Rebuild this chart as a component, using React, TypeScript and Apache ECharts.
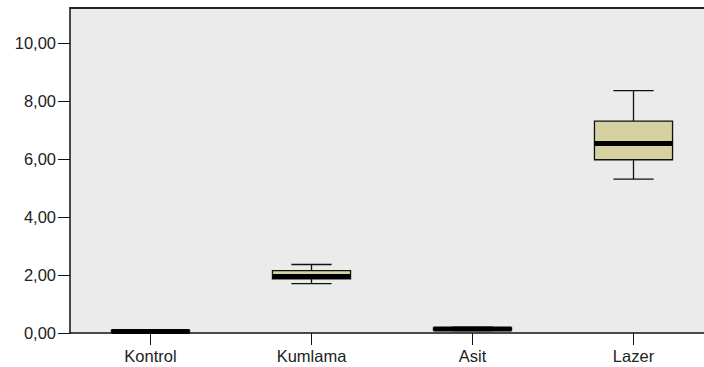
import React, { useEffect, useRef } from "react";
import * as echarts from "echarts";

const categories = ["Kontrol", "Kumlama", "Asit", "Lazer"];
const minValues = [0.0, 1.7, 0.08, 5.3];
const q1Values = [0.02, 1.87, 0.1, 5.97];
const medianValues = [0.05, 1.95, 0.14, 6.53];
const q3Values = [0.09, 2.15, 0.18, 7.3];
const maxValues = [0.1, 2.36, 0.2, 8.35];
const yTicks = [0, 2, 4, 6, 8, 10];

export default function App() {
  const ref = useRef<HTMLDivElement>(null);
  useEffect(() => {
    document.body.style.margin = "0";
    if (!ref.current) return;
    const chart = echarts.init(ref.current, null, { renderer: "svg" });
    const data = categories.map((_, i) => [
      i,
      minValues[i],
      q1Values[i],
      medianValues[i],
      q3Values[i],
      maxValues[i],
    ]);
    const font = "Liberation Sans, Arial, sans-serif";
    chart.setOption({
      animation: false,
      backgroundColor: "#ffffff",
      grid: {
        left: 70,
        top: 8,
        bottom: 34,
        width: 644,
        outerBoundsMode: "none",
        containLabel: false,
        show: true,
        backgroundColor: "#ebebeb",
        borderWidth: 0,
      },
      xAxis: [
        {
          type: "category",
          data: categories,
          position: "bottom",
          boundaryGap: true,
          axisLine: { show: true, lineStyle: { color: "#111", width: 1.5 } },
          axisTick: { show: true, alignWithLabel: true, length: 12, lineStyle: { color: "#111", width: 1 } },
          axisLabel: { margin: 14, color: "#222", fontSize: 16.5, fontFamily: font },
          splitLine: { show: false },
        },
        {
          type: "category",
          data: categories,
          position: "top",
          axisLine: { show: true, lineStyle: { color: "#222", width: 2 } },
          axisTick: { show: false },
          axisLabel: { show: false },
          splitLine: { show: false },
        },
      ],
      yAxis: {
        type: "value",
        min: 0,
        max: 11.2,
        interval: 2,
        axisLine: { show: true, lineStyle: { color: "#111", width: 1.5 } },
        axisTick: { show: true, length: 12, lineStyle: { color: "#111", width: 1 }, customValues: yTicks },
        axisLabel: {
          margin: 14,
          color: "#222",
          fontSize: 16.5,
          fontFamily: font,
          customValues: yTicks,
          formatter: (v: number) => v.toFixed(2).replace(".", ","),
        },
        splitLine: { show: false },
      },
      series: [
        {
          type: "custom",
          xAxisIndex: 0,
          data,
          renderItem: (params: any, api: any) => {
            const x = api.value(0);
            const pMin = api.coord([x, api.value(1)]);
            const pQ1 = api.coord([x, api.value(2)]);
            const pMed = api.coord([x, api.value(3)]);
            const pQ3 = api.coord([x, api.value(4)]);
            const pMax = api.coord([x, api.value(5)]);
            const band = api.size([1, 0])[0];
            const bw = band * 0.485;
            const ww = band * 0.25;
            const cx = pMed[0];
            const stroke = { stroke: "#111", lineWidth: 1.3, fill: null };
            return {
              type: "group",
              children: [
                { type: "line", shape: { x1: cx, y1: pMax[1], x2: cx, y2: pQ3[1] }, style: stroke },
                { type: "line", shape: { x1: cx, y1: pQ1[1], x2: cx, y2: pMin[1] }, style: stroke },
                { type: "line", shape: { x1: cx - ww / 2, y1: pMax[1], x2: cx + ww / 2, y2: pMax[1] }, style: stroke },
                { type: "line", shape: { x1: cx - ww / 2, y1: pMin[1], x2: cx + ww / 2, y2: pMin[1] }, style: stroke },
                {
                  type: "rect",
                  shape: { x: cx - bw / 2, y: pQ3[1], width: bw, height: pQ1[1] - pQ3[1] },
                  style: { fill: "#d5d1a0", stroke: "#111", lineWidth: 1.3 },
                },
                {
                  type: "line",
                  shape: { x1: cx - bw / 2, y1: pMed[1], x2: cx + bw / 2, y2: pMed[1] },
                  style: { stroke: "#000", lineWidth: 5 },
                },
              ],
            };
          },
        },
      ],
    });
    return () => chart.dispose();
  }, []);
  return <div ref={ref} style={{ width: 704, height: 367 }} />;
}
